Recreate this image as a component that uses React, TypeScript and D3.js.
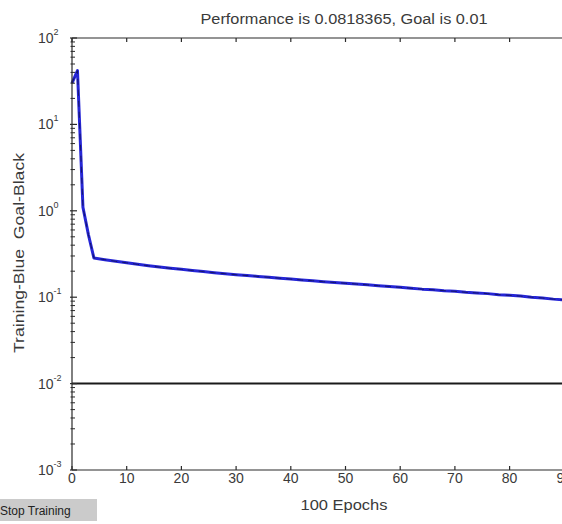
import React, { useEffect, useRef } from 'react';
import * as d3 from 'd3';

// training performance per epoch
const epochs = [0, 1, 2, 3, 4, 6, 8, 10, 12, 14, 16, 18, 20, 22, 24, 26, 28, 30, 32, 34, 36, 38, 40,
  42, 44, 46, 48, 50, 52, 54, 56, 58, 60, 62, 64, 66, 68, 70, 72, 74, 76, 78, 80,
  82, 84, 86, 88, 90, 92, 94, 96, 98, 100];
const performance = [30, 42, 1.1, 0.53, 0.285, 0.272, 0.26, 0.25, 0.24, 0.231, 0.223, 0.216, 0.21, 0.204,
  0.198, 0.192, 0.187, 0.182, 0.178, 0.174, 0.17, 0.166, 0.162, 0.158, 0.155, 0.151, 0.148,
  0.145, 0.142, 0.139, 0.136, 0.133, 0.13, 0.127, 0.124, 0.122, 0.119, 0.117, 0.114, 0.112,
  0.11, 0.107, 0.105, 0.103, 0.1, 0.098, 0.095, 0.093, 0.091, 0.089, 0.086, 0.084, 0.0818];
const goal = 0.01;
const xTicks = [0, 10, 20, 30, 40, 50, 60, 70, 80, 90, 100];
const yDecades = [-3, -2, -1, 0, 1, 2];

const W = 562;
const H = 524;

function App() {
  const ref = useRef<SVGSVGElement>(null);

  useEffect(() => {
    const svg = d3.select(ref.current);
    svg.selectAll('*').remove();

    const x = d3.scaleLinear().domain([0, 100]).range([72, 619]);
    const y = d3.scaleLog().domain([1e-3, 1e2]).range([470, 38]);
    const ink = '#2a2a2a';
    const txt = '#3a3a3a';
    const font = '"Liberation Sans", Arial, sans-serif';

    svg.append('rect').attr('width', W).attr('height', H).attr('fill', '#fff');

    // goal line
    svg.append('line')
      .attr('x1', x(0)).attr('x2', x(100))
      .attr('y1', y(goal)).attr('y2', y(goal))
      .attr('stroke', '#1a1a1a').attr('stroke-width', 2);

    // training curve
    const data = epochs.map((e, i) => ({ e: e, v: performance[i] }));
    const line = d3.line<{ e: number; v: number }>()
      .x(d => x(d.e))
      .y(d => y(d.v));
    svg.append('path')
      .datum(data)
      .attr('d', line)
      .attr('fill', 'none')
      .attr('stroke', '#2626d6')
      .attr('stroke-width', 3)
      .attr('stroke-linejoin', 'round');
    svg.append('path')
      .datum(data)
      .attr('d', line)
      .attr('fill', 'none')
      .attr('stroke', '#14146a')
      .attr('stroke-width', 1)
      .attr('stroke-dasharray', '6,5');

    // axes box (right side is cut off by the picture)
    const g = svg.append('g').attr('stroke', ink).attr('stroke-width', 1.2);
    g.append('line').attr('x1', x(0)).attr('x2', x(100)).attr('y1', y(1e2)).attr('y2', y(1e2));
    g.append('line').attr('x1', x(0)).attr('x2', x(100)).attr('y1', y(1e-3)).attr('y2', y(1e-3));
    g.append('line').attr('x1', x(0)).attr('x2', x(0)).attr('y1', y(1e2)).attr('y2', y(1e-3));

    xTicks.forEach(t => {
      g.append('line').attr('x1', x(t)).attr('x2', x(t)).attr('y1', y(1e-3)).attr('y2', y(1e-3) - 4);
      g.append('line').attr('x1', x(t)).attr('x2', x(t)).attr('y1', y(1e2)).attr('y2', y(1e2) + 4);
    });

    yDecades.forEach(p => {
      const v = Math.pow(10, p);
      g.append('line').attr('x1', x(0) - 2).attr('x2', x(0) + 5).attr('y1', y(v)).attr('y2', y(v));
      if (p < 2) {
        for (let k = 2; k <= 9; k++) {
          g.append('line').attr('x1', x(0) - 1.5).attr('x2', x(0) + 3)
            .attr('y1', y(k * v)).attr('y2', y(k * v)).attr('stroke-width', 1);
        }
      }
    });

    // tick labels
    svg.selectAll('.xlab')
      .data(xTicks)
      .enter()
      .append('text')
      .attr('class', 'xlab')
      .attr('x', d => x(d))
      .attr('y', 483)
      .attr('text-anchor', 'middle')
      .style('font', '14px ' + font)
      .attr('fill', txt)
      .text(d => d);

    yDecades.forEach(p => {
      const t = svg.append('text')
        .attr('x', 38)
        .attr('y', y(Math.pow(10, p)) + 5)
        .style('font', '14px ' + font)
        .attr('fill', txt);
      t.append('tspan').text('10');
      t.append('tspan').attr('dy', -8).style('font-size', '9px').text(p);
    });

    // titles
    svg.append('text')
      .attr('x', 344).attr('y', 24)
      .attr('text-anchor', 'middle')
      .attr('textLength', 287).attr('lengthAdjust', 'spacingAndGlyphs')
      .style('font', '14px ' + font)
      .attr('fill', txt)
      .text('Performance is 0.0818365, Goal is 0.01');

    svg.append('text')
      .attr('x', 344).attr('y', 510)
      .attr('text-anchor', 'middle')
      .attr('textLength', 87).attr('lengthAdjust', 'spacingAndGlyphs')
      .style('font', '14px ' + font)
      .attr('fill', txt)
      .text('100 Epochs');

    svg.append('text')
      .attr('transform', 'translate(24,253) rotate(-90)')
      .attr('text-anchor', 'middle')
      .attr('textLength', 200).attr('lengthAdjust', 'spacingAndGlyphs')
      .style('font', '14px ' + font)
      .style('white-space', 'pre')
      .attr('fill', txt)
      .text('Training-Blue  Goal-Black');

    // stop button, cut off at the left edge
    svg.append('rect')
      .attr('x', -20).attr('y', 499).attr('width', 117).attr('height', 22)
      .attr('fill', '#cbcbcb');
    svg.append('text')
      .attr('x', 0).attr('y', 515)
      .style('font', '12px ' + font)
      .attr('fill', '#222')
      .text('Stop Training');
  }, []);

  return (
    <svg ref={ref} width={W} height={H}
      style={{ position: 'absolute', left: 0, top: 0, display: 'block' }}></svg>
  );
}

export default App;
